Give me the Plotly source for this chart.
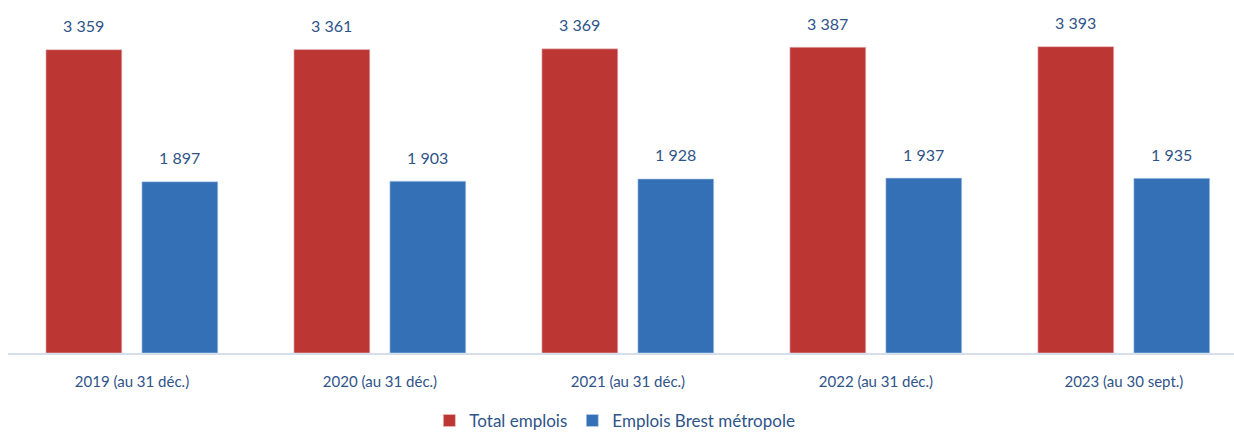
import plotly.graph_objects as go

categories = ["2019 (au 31 déc.)", "2020 (au 31 déc.)", "2021 (au 31 déc.)",
              "2022 (au 31 déc.)", "2023 (au 30 sept.)"]
total_emplois = [3359, 3361, 3369, 3387, 3393]
emplois_brest = [1897, 1903, 1928, 1937, 1935]

FONT = "Lato"
TXT = "#2F5488"
W = 0.306
OFF_RED = -0.347
OFF_BLUE = 0.040

def fmt(v):
    return f"{v:,}".replace(",", " ")

fig = go.Figure()
fig.add_trace(go.Bar(
    name="Total emplois", x=categories, y=total_emplois,
    width=W, offset=OFF_RED,
    marker=dict(color="#BC3634", line=dict(color="#E9C3C2", width=0.6)),
))
fig.add_trace(go.Bar(
    name="Emplois Brest métropole", x=categories, y=emplois_brest,
    width=W, offset=OFF_BLUE,
    marker=dict(color="#3470B6", line=dict(color="#BFD3EC", width=0.6)),
))

annotations = []
for i, (a, b) in enumerate(zip(total_emplois, emplois_brest)):
    annotations.append(dict(x=i + OFF_RED + W / 2, y=a, xref="x", yref="y",
                            text=fmt(a), showarrow=False, yshift=24,
                            font=dict(family=FONT, size=16, color=TXT)))
    annotations.append(dict(x=i + OFF_BLUE + W / 2, y=b, xref="x", yref="y",
                            text=fmt(b), showarrow=False, yshift=24,
                            font=dict(family=FONT, size=16, color=TXT)))

fig.update_layout(
    width=1234, height=434,
    margin=dict(l=8, r=0, t=37, b=81, autoexpand=False),
    paper_bgcolor="white", plot_bgcolor="white",
    barmode="group",
    showlegend=True,
    legend=dict(orientation="h", x=0.495, xanchor="center", y=-0.215, yanchor="middle",
                font=dict(family=FONT, size=17, color=TXT), traceorder="normal",
                itemwidth=30),
    annotations=annotations,
    font=dict(family=FONT, size=15, color=TXT),
)
fig.update_xaxes(
    type="category", range=[-0.5, 4.444], automargin=False,
    showline=True, linecolor="#D5DFEC", linewidth=1.5,
    showgrid=False, ticks="outside", ticklen=14, tickcolor="rgba(0,0,0,0)",
    tickfont=dict(family=FONT, size=15, color=TXT),
)
fig.update_yaxes(range=[0, 3500], visible=False, showgrid=False, zeroline=False,
                 automargin=False)

fig.write_html("out.html")
